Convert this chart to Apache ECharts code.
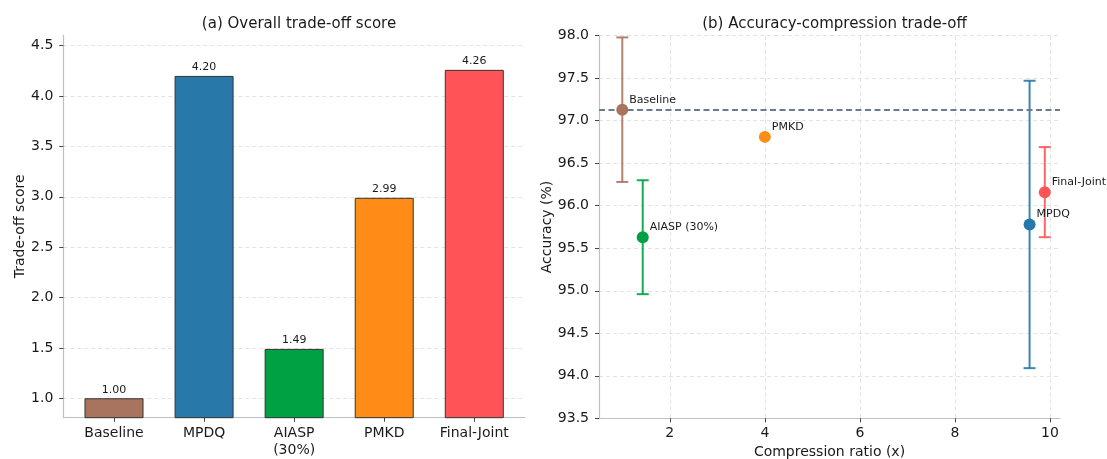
<!DOCTYPE html>
<html>
<head>
<meta charset="utf-8">
<script src="https://cdn.jsdelivr.net/npm/echarts@6/dist/echarts.min.js"></script>
<style>
html,body{margin:0;padding:0;background:#fff;}
#c{width:1107px;height:459px;}
</style>
</head>
<body>
<div id="c"></div>
<script>
// ---- data ----
const categories = ['Baseline', 'MPDQ', 'AIASP (30%)', 'PMKD', 'Final-Joint'];
const tickLabels = ['Baseline', 'MPDQ', 'AIASP\n(30%)', 'PMKD', 'Final-Joint'];
const tradeoffScore = [1.00, 4.20, 1.49, 2.99, 4.26];
const compressionRatio = [1.0, 9.57, 1.43, 4.0, 9.89];
const accuracy = [97.13, 95.78, 95.63, 96.81, 96.16];
const accuracyErr = [0.85, 1.69, 0.67, 0, 0.53];
const baselineAccuracy = 97.13;
const leftYTicks = [1.0, 1.5, 2.0, 2.5, 3.0, 3.5, 4.0, 4.5];
const rightXTicks = [2, 4, 6, 8, 10];
const colors = ['#a8745f', '#2878aa', '#00a142', '#ff8c17', '#ff5457'];

const FONT = 'DejaVu Sans';
const TXT = '#1a1a1a';
const spineColor = '#b9c1cd';
const gridLine = {show: true, lineStyle: {color: '#e3e3e3', width: 1, type: [4, 3]}};

const chart = echarts.init(document.getElementById('c'), null, {renderer: 'canvas'});

const barData = tradeoffScore.map((v, i) => ({
  value: [i, v],
  itemStyle: {color: colors[i]}
}));
const scatterData = categories.map((name, i) => ({
  name: name,
  value: [compressionRatio[i], accuracy[i]],
  itemStyle: {color: colors[i], opacity: 1}
}));
const errData = categories.map((name, i) => ({
  value: [compressionRatio[i], accuracy[i] - accuracyErr[i], accuracy[i] + accuracyErr[i]],
  itemStyle: {color: colors[i]}
})).filter((d, i) => accuracyErr[i] > 0);

const option = {
  animation: false,
  textStyle: {fontFamily: FONT},
  title: [
    {text: '(a) Overall trade-off score', left: 294, top: 12, textAlign: 'center',
     textStyle: {fontFamily: FONT, fontSize: 15, fontWeight: 'normal', color: TXT}},
    {text: '(b) Accuracy-compression trade-off', left: 829.5, top: 12, textAlign: 'center',
     textStyle: {fontFamily: FONT, fontSize: 15, fontWeight: 'normal', color: TXT}}
  ],
  grid: [
    {left: 63.3, top: 35, width: 461.7, height: 382.7, outerBoundsMode: 'none', containLabel: false},
    {left: 599, top: 35.7, width: 461, height: 382.6, outerBoundsMode: 'none', containLabel: false}
  ],
  xAxis: [
    {
      type: 'value', gridIndex: 0, min: -0.563, max: 4.563,
      axisLine: {show: true, onZero: false, lineStyle: {color: spineColor, width: 1.2}},
      axisTick: {show: true, customValues: [0, 1, 2, 3, 4], length: 4, lineStyle: {color: '#444'}},
      axisLabel: {customValues: [0, 1, 2, 3, 4], formatter: v => tickLabels[Math.round(v)],
                  fontFamily: FONT, fontSize: 14, color: TXT, margin: 7, lineHeight: 17},
      splitLine: {show: false}
    },
    {
      type: 'value', gridIndex: 1, min: 0.51, max: 10.21,
      name: 'Compression ratio (x)', nameLocation: 'middle', nameGap: 27,
      nameTextStyle: {fontFamily: FONT, fontSize: 14, color: TXT},
      axisLine: {show: true, onZero: false, lineStyle: {color: spineColor, width: 1.2}},
      axisTick: {show: true, customValues: rightXTicks, length: 4, lineStyle: {color: '#444'}},
      axisLabel: {customValues: rightXTicks, fontFamily: FONT, fontSize: 14, color: TXT, margin: 8},
      splitLine: gridLine
    }
  ],
  yAxis: [
    {
      type: 'value', gridIndex: 0, min: 0.807, max: 4.606,
      name: 'Trade-off score', nameLocation: 'middle', nameGap: 36, nameRotate: 90,
      nameTextStyle: {fontFamily: FONT, fontSize: 14, color: TXT},
      axisLine: {show: true, onZero: false, lineStyle: {color: spineColor, width: 1.2}},
      axisTick: {show: true, customValues: leftYTicks, length: 4, lineStyle: {color: '#444'}},
      axisLabel: {customValues: leftYTicks, formatter: v => v.toFixed(1),
                  fontFamily: FONT, fontSize: 14, color: TXT, margin: 10},
      splitLine: gridLine
    },
    {
      type: 'value', gridIndex: 1, min: 93.5, max: 98.0, interval: 0.5,
      name: 'Accuracy (%)', nameLocation: 'middle', nameGap: 45, nameRotate: 90,
      nameTextStyle: {fontFamily: FONT, fontSize: 14, color: TXT},
      axisLine: {show: true, onZero: false, lineStyle: {color: spineColor, width: 1.2}},
      axisTick: {show: true, length: 4, lineStyle: {color: '#444'}},
      axisLabel: {formatter: v => v.toFixed(1), fontFamily: FONT, fontSize: 14, color: TXT, margin: 10},
      splitLine: gridLine
    }
  ],
  series: [
    {
      type: 'bar', xAxisIndex: 0, yAxisIndex: 0, data: barData, barWidth: 59,
      itemStyle: {borderColor: '#333', borderWidth: 1},
      label: {show: true, position: 'top', distance: 3, formatter: p => p.value[1].toFixed(2),
              fontFamily: FONT, fontSize: 11, color: TXT},
      z: 3
    },
    {
      type: 'custom', xAxisIndex: 1, yAxisIndex: 1, data: errData, z: 3,
      renderItem: function (params, api) {
        const x = api.value(0);
        const lo = api.coord([x, api.value(1)]);
        const hi = api.coord([x, api.value(2)]);
        const c = api.visual('color');
        const cap = 6;
        const st = {stroke: c, lineWidth: 2, opacity: 0.9};
        return {
          type: 'group',
          children: [
            {type: 'line', shape: {x1: lo[0], y1: lo[1], x2: hi[0], y2: hi[1]}, style: st},
            {type: 'line', shape: {x1: lo[0] - cap, y1: lo[1], x2: lo[0] + cap, y2: lo[1]}, style: st},
            {type: 'line', shape: {x1: hi[0] - cap, y1: hi[1], x2: hi[0] + cap, y2: hi[1]}, style: st}
          ]
        };
      }
    },
    {
      type: 'scatter', xAxisIndex: 1, yAxisIndex: 1, data: scatterData, symbolSize: 12, z: 5,
      itemStyle: {opacity: 1},
      label: {show: true, position: 'right', distance: 1, offset: [0, -10], formatter: p => p.name,
              fontFamily: FONT, fontSize: 11, color: TXT},
      markLine: {
        silent: true, symbol: 'none', label: {show: false},
        lineStyle: {color: '#6b7a8f', width: 2, type: [6, 3.5]},
        data: [{yAxis: baselineAccuracy}]
      }
    }
  ]
};
chart.setOption(option);
</script>
</body>
</html>
